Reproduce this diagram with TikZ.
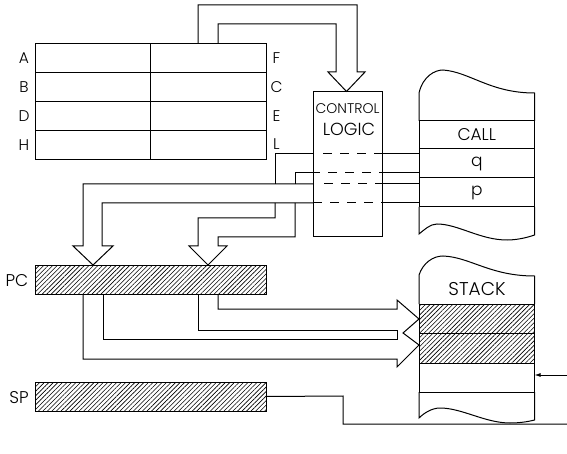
\documentclass[tikz,border=0pt]{standalone}
\usepackage{fontspec}
\setmainfont{Poppins}[UprightFont=* Light]
\usetikzlibrary{patterns.meta, arrows.meta}

\begin{document}
\begin{tikzpicture}[
    x=1pt, y=-1pt,
    line width=1pt,
    cell/.style={draw=black, minimum width=#1, inner sep=0pt, outer sep=0pt, font=\fontsize{17}{17}\selectfont},
    reg/.style={draw=black, minimum width=231pt, minimum height=29pt, inner sep=0pt, outer sep=0pt, pattern={Lines[angle=45,distance=3.2pt,line width=0.6pt]}},
    hatched/.style={pattern={Lines[angle=45,distance=3.2pt,line width=0.6pt]}},
    lbl/.style={inner sep=0pt, font=\fontsize{15.5}{15.5}\selectfont},
    wire/.style={draw=black, line width=1pt},
    gapwire/.style={draw=black, dash pattern=on 9pt off 8pt}
]
\useasboundingbox (0,0) rectangle (567,454);

% Register file
\foreach \lname/\rname/\row/\y in {A/F/a/58.5, B/C/b/87.5, D/E/d/116.5, H/L/h/145}{
    \node[cell=115.5pt, minimum height=29pt] (left\row) at (92.75,\y) {};
    \node[cell=115.5pt, minimum height=29pt] (right\row) at (208.25,\y) {};
    \node[lbl] (lbl\lname) at (24,\y) {\lname};
    \node[lbl] (lbl\rname) at (276.5,\y-0.5) {\rname};
}

% Control logic
\node[draw=black, minimum width=69pt, minimum height=145pt, inner sep=0pt, outer sep=0pt] (control) at (347.5,164.5) {};
\node[inner sep=0pt, font=\fontsize{14}{14}\selectfont] (ctltext) at (347.5,109) {CONTROL};
\node[inner sep=0pt, font=\fontsize{17.5}{17.5}\selectfont] (logictext) at (349,129) {LOGIC};

% Memory
\node[cell=115.5pt, minimum height=28pt] (call) at (476.75,135) {CALL};
\node[cell=115.5pt, minimum height=29pt] (memq) at (476.75,163.5) {q};
\node[cell=115.5pt, minimum height=29pt] (memp) at (476.75,192.5) {p};
\draw (call.north west) -- (419,93) .. controls (423,76) and (435,70) .. (443,70)
      .. controls (470,72) and (490,93) .. (534.5,93) -- (call.north east);
\draw (memp.south west) -- (419,234) .. controls (424,230) and (430,224) .. (437,224)
      .. controls (458,224) and (480,240) .. (507,240) .. controls (516,240) and (526,238) .. (534.5,235) -- (memp.south east);

% Stack
\node[cell=115.5pt, minimum height=29pt, hatched] (stacka) at (476.75,318.5) {};
\node[cell=115.5pt, minimum height=30pt, hatched] (stackb) at (476.75,348) {};
\node[cell=115.5pt, minimum height=29pt] (stackc) at (476.75,377.5) {};
\draw (stacka.north west) -- (419,275) .. controls (423,263) and (433,256) .. (443,256)
      .. controls (470,257) and (490,276) .. (534.5,276) -- (stacka.north east);
\draw (stackc.south west) -- (419,418) .. controls (424,413) and (432,408) .. (440,408)
      .. controls (462,408) and (485,423) .. (510,423) .. controls (518,423) and (527,422) .. (534.5,420) -- (stackc.south east);
\node[inner sep=0pt, font=\fontsize{18.5}{18.5}\selectfont] (stacktext) at (477,289) {STACK};

% Registers
\node[reg] (pc) at (150.5,279.5) {};
\node[reg] (sp) at (150.5,396.5) {};
\node[lbl, font=\fontsize{17}{17}\selectfont] (lblpc) at (17,281) {PC};
\node[lbl, font=\fontsize{17}{17}\selectfont] (lblsp) at (19,398) {SP};

% Top bus
\coordinate (topa) at (198,44);
\coordinate (topb) at (218,44);
\coordinate (topt) at (346.5,91.5);
\draw[wire] (topa) |- (357,5) -- (357,72) -- (365,72) -- (topt) -- (328,72) -- (336,72) |- (218,24) -- (topb);

% Wires out of the control logic
\coordinate (ctla) at (control.west |- 0,154);
\coordinate (ctlb) at (control.west |- 0,173);
\coordinate (ctlc) at (control.west |- 0,184);
\coordinate (ctld) at (control.west |- 0,203);
\coordinate (tippca) at (93,265);
\coordinate (tippcb) at (208,265);
\draw[wire] (ctla) -- (275,154) -- (275,184);
\draw[wire] (ctlb) -- (295,173) -- (295,184);
\draw[wire] (ctlc) -- (83,184) -- (83,246) -- (73,246) -- (tippca) -- (113,246) -- (102,246) |- (ctld);
\draw[wire] (275,203) -- (275,218) -- (198,218) -- (198,246) -- (189,246) -- (tippcb) -- (227,246) -- (218,246) |- (295,237) -- (295,203);
\draw[gapwire] (control.west |- 0,154) ++(10,0) -- (control.east |- 0,154);
\draw[gapwire] (control.west |- 0,173) ++(-2,0) -- (control.east |- 0,173);
\draw[gapwire] (control.west |- 0,184) ++(11,0) -- (control.east |- 0,184);
\draw[gapwire] (control.west |- 0,203) -- (control.east |- 0,203);
\draw[wire] (control.east |- 0,154) -- (419,154);
\draw[wire] (control.east |- 0,173) -- (419,173);
\draw[wire] (control.east |- 0,184) -- (419,184);
\draw[wire] (control.east |- 0,203) -- (419,203);

% Buses from PC to stack
\coordinate (tipstacka) at (stacka.west |- 0,319);
\coordinate (tipstackb) at (stackb.west |- 0,345);
\draw[wire] (218,294) |- (397,309) -- (397,300) -- (tipstacka) -- (403,333) -- (tipstackb) -- (397,367) -- (397,359) -| (83,294);
\draw[wire] (198,294) |- (397,330) -- (397,339) -| (103,294);

% Stack pointer
\coordinate (spin) at (567,375);
\coordinate (spout) at (567,424);
\draw[wire] (sp.east) -- (343,396) |- (spout);
\draw[wire, -{Latex[length=6pt,width=4pt]}] (spin) -- (stackc.east |- spin);

\end{tikzpicture}
\end{document}
